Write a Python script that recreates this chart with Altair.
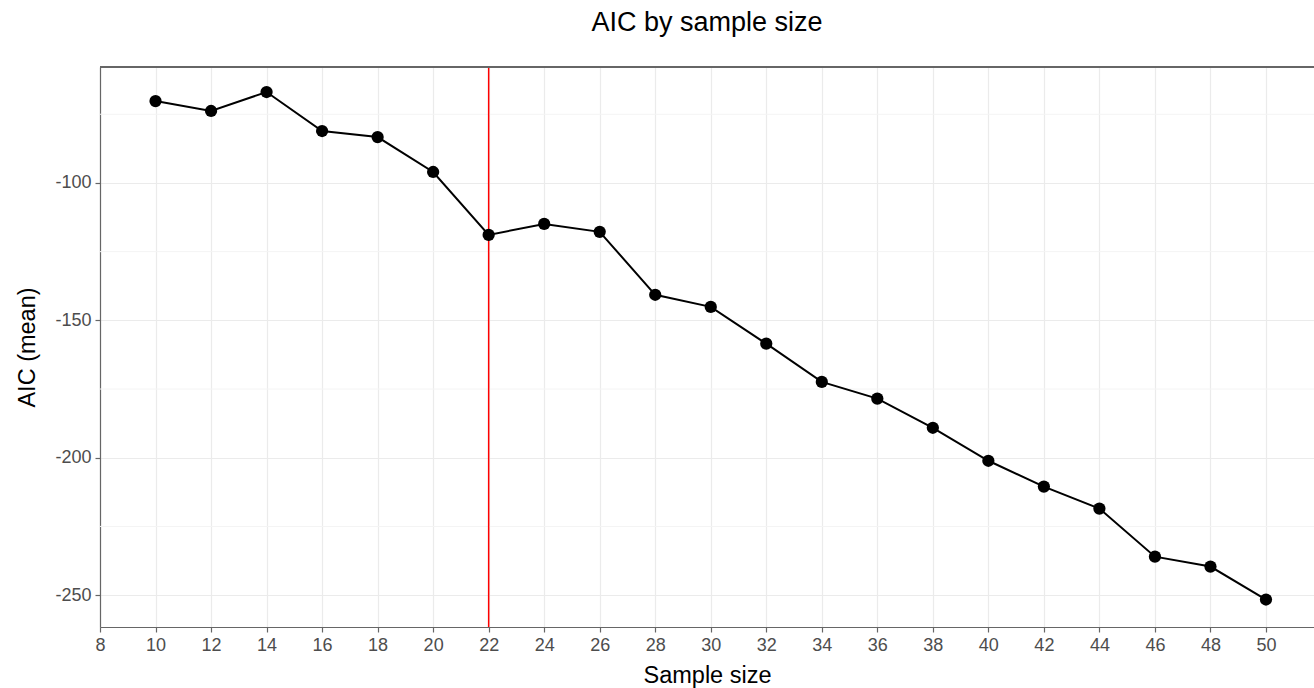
import altair as alt
import pandas as pd

sample_size = [10, 12, 14, 16, 18, 20, 22, 24, 26, 28, 30, 32, 34, 36, 38, 40, 42, 44, 46, 48, 50]
aic_mean = [-70.2, -73.8, -66.9, -81.1, -83.3, -96.0, -118.9, -114.9, -117.8, -140.7, -145.1,
            -158.5, -172.4, -178.5, -189.1, -201.1, -210.5, -218.5, -236.0, -239.6, -251.6]
x_ticks = list(range(8, 51, 2))
y_ticks = [-250, -200, -150, -100]
y_minor = [-225, -175, -125, -75]
vline_x = [22]

df = pd.DataFrame({"n": sample_size, "aic": aic_mean})
minor_df = pd.DataFrame({"y": y_minor})
vline_df = pd.DataFrame({"x": vline_x})

FONT = "Liberation Sans"
W, H = 1214, 560
xscale = alt.Scale(domain=[8, 51.73], nice=False, zero=False)
yscale = alt.Scale(domain=[-261.6, -57.8], nice=False, zero=False)

common = dict(grid=True, gridColor="#EBEBEB", gridWidth=1.2, domainColor="#666666",
              domainWidth=1.2, tickColor="#666666", tickSize=5, tickWidth=1.2,
              labelColor="#4D4D4D", labelFontSize=18, labelFont=FONT,
              titleFont=FONT, titleFontSize=23.5, titleFontWeight="normal",
              titleColor="#000000", labelExpr="'' + datum.value",
              labelFlush=False, labelOverlap=False)
xaxis = alt.Axis(values=x_ticks, title="Sample size", titlePadding=9, labelPadding=4, **common)
yaxis = alt.Axis(values=y_ticks, title="AIC (mean)", titlePadding=15, labelPadding=4, **common)

minor = alt.Chart(minor_df).mark_rule(color="#F4F4F4", strokeWidth=1).encode(
    y=alt.Y("y:Q", scale=yscale, axis=yaxis))

top_border = alt.Chart(df).mark_rule(color="#666666", strokeWidth=1.2).encode(
    x=alt.value(0), x2=alt.value(W), y=alt.value(0))

line = alt.Chart(df).mark_line(color="black", strokeWidth=2).encode(
    x=alt.X("n:Q", scale=xscale, axis=xaxis),
    y=alt.Y("aic:Q", scale=yscale, axis=yaxis))

pts = alt.Chart(df).mark_circle(color="black", size=150, opacity=1).encode(
    x=alt.X("n:Q", scale=xscale, axis=xaxis),
    y=alt.Y("aic:Q", scale=yscale, axis=yaxis))

vline = alt.Chart(vline_df).mark_rule(color="#FF0000", strokeWidth=1.5).encode(
    x=alt.X("x:Q", scale=xscale, axis=xaxis))

chart = alt.layer(minor, line, vline, pts, top_border).properties(
    width=W, height=H,
    title=alt.TitleParams("AIC by sample size", font=FONT, fontSize=27, fontWeight="normal",
                          color="#000000", anchor="middle", offset=29),
    autosize=alt.AutoSizeParams(type="none"),
    padding={"left": 100, "top": 67, "right": 0, "bottom": 61},
).configure_view(stroke=None).configure(background="white")

chart.save("out.html", embed_options={"renderer": "svg", "actions": False})
